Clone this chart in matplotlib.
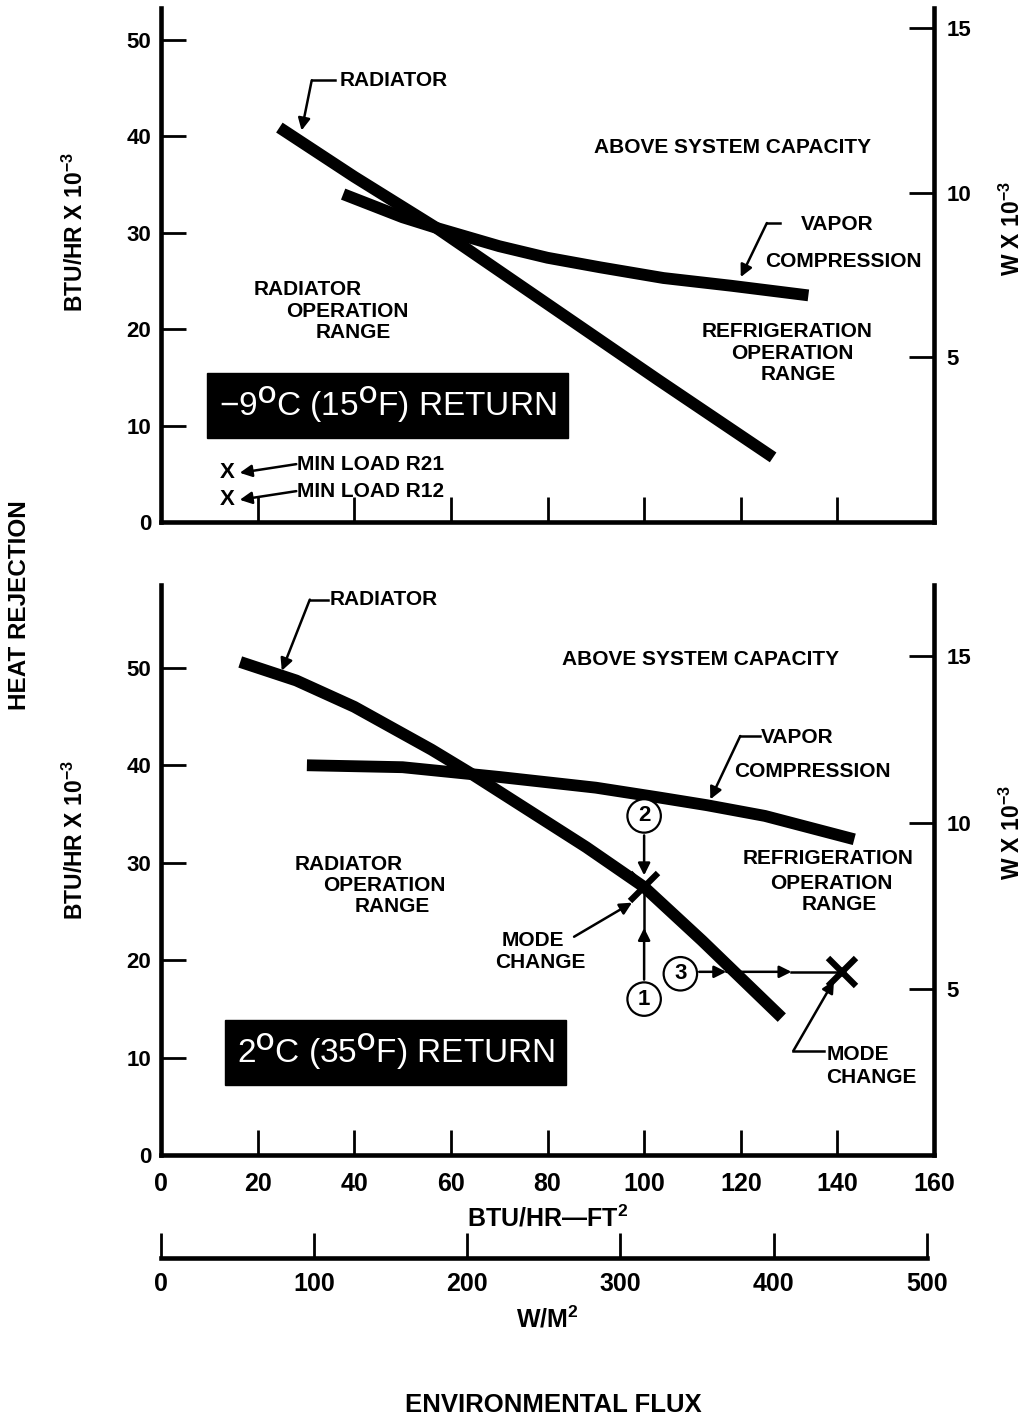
import numpy as np
import matplotlib.pyplot as plt

plt.rcParams['font.family'] = ['Liberation Sans', 'DejaVu Sans']
plt.rcParams['font.weight'] = 'bold'
plt.rcParams['axes.labelweight'] = 'bold'
plt.rcParams['mathtext.fontset'] = 'custom'
plt.rcParams['mathtext.rm'] = 'Liberation Sans'
plt.rcParams['mathtext.bf'] = 'Liberation Sans:bold'
plt.rcParams['mathtext.default'] = 'regular'

NARROW = ['Liberation Sans Narrow', 'Liberation Sans', 'DejaVu Sans']
FS = 15  # annotation text size

# ---- data ----
flux_ticks = [0, 20, 40, 60, 80, 100, 120, 140, 160]
wm2_ticks = [0, 100, 200, 300, 400, 500]
btu_ticks = [0, 10, 20, 30, 40, 50]
kw_ticks = [5, 10, 15]

BTU_PER_W = 3.41214        # BTU/hr per W
WM2_PER_FLUX = 3.15459     # W/m2 per BTU/hr-ft2

# -9C (15F) return
top_rad_x = [24.5, 40, 57, 80, 103, 126.7]
top_rad_y = [40.9, 35.8, 30.5, 22.6, 14.7, 6.7]
top_vap_x = [37.7, 50, 57, 70, 80, 91, 104, 118, 134]
top_vap_y = [34.0, 31.6, 30.5, 28.6, 27.4, 26.4, 25.3, 24.5, 23.5]
min_load_x = [13.7, 13.7]
min_load_y = [5.1, 2.3]
min_load_lbl = ['MIN LOAD R21', 'MIN LOAD R12']

# 2C (35F) return
bot_rad_x = [16.4, 28, 40, 56, 64, 76, 88, 100, 112, 128.5]
bot_rad_y = [50.6, 48.7, 46.0, 41.6, 39.2, 35.4, 31.6, 27.5, 22.0, 14.1]
bot_vap_x = [30.2, 50, 70, 90, 103, 113, 125, 143.5]
bot_vap_y = [40.0, 39.8, 38.8, 37.7, 36.7, 35.9, 34.8, 32.4]
mode_x = [100, 140.9]
mode_y = [27.5, 18.8]
step_lbl = ['1', '2', '3']
step_x = [100, 100, 107.5]
step_y = [16.0, 34.8, 18.6]


def arrow(ax, start, tip, lw=1.8):
    ax.annotate('', xy=tip, xytext=start,
                arrowprops=dict(arrowstyle='-|>', color='black', lw=lw,
                                mutation_scale=18, shrinkA=0, shrinkB=0))


def leader(ax, x0, x1, y, tip):
    ax.plot([x0, x1], [y, y], color='black', lw=1.8)
    arrow(ax, (x1, y), tip)


def setup(ax, ytop, xlabels):
    ax.set_xlim(0, 160)
    ax.set_ylim(0, ytop)
    ax.spines['top'].set_visible(False)
    ax.spines['right'].set_visible(False)
    for s in ['left', 'bottom']:
        ax.spines[s].set_linewidth(3.3)
    ax.set_xticks(flux_ticks)
    ax.set_yticks(btu_ticks)
    ax.tick_params(axis='both', direction='in', length=18, width=2)
    ax.tick_params(axis='y', labelsize=16, pad=7)
    ax.tick_params(axis='x', labelsize=18, pad=12, labelbottom=xlabels,
                   labelfontfamily=NARROW)
    sec = ax.secondary_yaxis('right', functions=(lambda y: y / BTU_PER_W,
                                                 lambda w: w * BTU_PER_W))
    sec.set_yticks(kw_ticks)
    sec.tick_params(direction='in', length=18, width=2, pad=9, labelsize=16)
    sec.spines['right'].set_linewidth(3.3)
    return sec


def thick(ax, x, y):
    ax.plot(x, y, color='black', lw=8.5, solid_capstyle='butt',
            solid_joinstyle='round')


def stacked(ax, lines):
    for txt, x, y in lines:
        ax.text(x, y, txt, fontsize=FS, ha='center', va='center')


def box(ax, x, y, txt):
    ax.text(x, y, txt, color='white', fontsize=24, fontweight='normal',
            ha='center', va='center',
            bbox=dict(boxstyle='square,pad=0.35', fc='black', ec='black'))


fig = plt.figure(figsize=(10.26, 14.2), dpi=100)
L, W = 161 / 1026, 773 / 1026
ax1 = fig.add_axes([L, 1 - 522 / 1420, W, 514 / 1420])
ax2 = fig.add_axes([L, 1 - 1155 / 1420, W, 570 / 1420])

# ---------- top panel ----------
s1 = setup(ax1, 53.3, False)
fig.text(75 / 1026, 1 - 232 / 1420, 'BTU/HR X 10$^{-3}$', rotation=90,
         fontsize=16.5, ha='center', va='center')
fig.text(1012 / 1026, 1 - 228 / 1420, 'W X 10$^{-3}$', rotation=90,
         fontsize=16.5, ha='center', va='center')
thick(ax1, top_rad_x, top_rad_y)
thick(ax1, top_vap_x, top_vap_y)

ax1.text(37.0, 45.8, 'RADIATOR', fontsize=FS, ha='left', va='center')
leader(ax1, 36.0, 31.2, 45.8, (29.1, 40.6))
ax1.text(118.4, 38.8, 'ABOVE SYSTEM CAPACITY', fontsize=FS, ha='center', va='center')
ax1.text(140.0, 30.9, 'VAPOR', fontsize=FS, ha='center', va='center')
ax1.text(141.2, 27.0, 'COMPRESSION', fontsize=FS, ha='center', va='center')
leader(ax1, 128.2, 125.4, 31.0, (120.0, 25.4))
stacked(ax1, [('RADIATOR', 30.3, 24.1), ('OPERATION', 38.6, 21.8), ('RANGE', 39.8, 19.6)])
stacked(ax1, [('REFRIGERATION', 129.6, 19.8), ('OPERATION', 130.6, 17.5), ('RANGE', 132.0, 15.3)])
box(ax1, 46.9, 12.1, '\u22129$^{\\rm O}$C (15$^{\\rm O}$F) RETURN')

for mx, my, lbl in zip(min_load_x, min_load_y, min_load_lbl):
    ax1.text(mx, my, 'X', fontsize=16, ha='center', va='center')
    ax1.text(mx + 14.5, my + 0.9, lbl, fontsize=FS, ha='left', va='center')
    arrow(ax1, (mx + 14.3, my + 0.9), (mx + 2.6, my))

# ---------- bottom panel ----------
s2 = setup(ax2, 58.5, True)
fig.text(75 / 1026, 1 - 840 / 1420, 'BTU/HR X 10$^{-3}$', rotation=90,
         fontsize=16.5, ha='center', va='center')
fig.text(1012 / 1026, 1 - 832 / 1420, 'W X 10$^{-3}$', rotation=90,
         fontsize=16.5, ha='center', va='center')
ax2.set_xlabel('BTU/HR\u2014FT$^2$', fontsize=18, labelpad=7, family=NARROW)
thick(ax2, bot_rad_x, bot_rad_y)
thick(ax2, bot_vap_x, bot_vap_y)

ax2.text(35.0, 57.0, 'RADIATOR', fontsize=FS, ha='left', va='center')
leader(ax2, 34.6, 30.8, 57.0, (25.0, 49.7))
ax2.text(111.6, 50.9, 'ABOVE SYSTEM CAPACITY', fontsize=FS, ha='center', va='center')
ax2.text(131.6, 42.8, 'VAPOR', fontsize=FS, ha='center', va='center')
ax2.text(134.9, 39.4, 'COMPRESSION', fontsize=FS, ha='center', va='center')
leader(ax2, 124.0, 119.9, 43.0, (113.7, 36.5))
stacked(ax2, [('RADIATOR', 38.8, 29.8), ('OPERATION', 46.2, 27.7), ('RANGE', 47.9, 25.5)])
stacked(ax2, [('REFRIGERATION', 138.0, 30.4), ('OPERATION', 138.7, 27.9), ('RANGE', 140.4, 25.7)])
box(ax2, 48.6, 10.5, '2$^{\\rm O}$C (35$^{\\rm O}$F) RETURN')

# mode change path
ax2.plot(mode_x, mode_y, linestyle='none', marker='x', ms=20, mew=4.5, color='black')
for lbl, sx, sy in zip(step_lbl, step_x, step_y):
    ax2.text(sx, sy, lbl, fontsize=16, ha='center', va='center', family=NARROW,
             bbox=dict(boxstyle='circle,pad=0.28', fc='white', ec='black', lw=1.6),
             zorder=5)
arrow(ax2, (step_x[1], step_y[1] - 2.0), (mode_x[0], mode_y[0] + 1.2))
arrow(ax2, (step_x[0], step_y[0] + 2.0), (mode_x[0], 23.3))
ax2.plot([mode_x[0], mode_x[0]], [23.0, mode_y[0]], color='black', lw=1.8)
arrow(ax2, (step_x[2] + 3.9, mode_y[1]), (117.0, mode_y[1]))
arrow(ax2, (117.0, mode_y[1]), (130.5, mode_y[1]))
ax2.plot([130.5, mode_x[1]], [mode_y[1], mode_y[1]], color='black', lw=1.8)

ax2.text(77.0, 22.0, 'MODE', fontsize=FS, ha='center', va='center')
ax2.text(78.6, 19.8, 'CHANGE', fontsize=FS, ha='center', va='center')
arrow(ax2, (85.5, 22.4), (97.5, 25.9))
ax2.text(144.3, 10.3, 'MODE', fontsize=FS, ha='center', va='center')
ax2.text(147.1, 8.0, 'CHANGE', fontsize=FS, ha='center', va='center')
leader(ax2, 137.2, 130.9, 10.7, (139.3, 17.9))

# W/M2 scale
wax = ax2.secondary_xaxis(-0.1807, functions=(lambda x: x * WM2_PER_FLUX,
                                              lambda w: w / WM2_PER_FLUX))
wax.set_xticks(wm2_ticks)
wax.spines['bottom'].set_linewidth(3.3)
wax.spines['bottom'].set_bounds(0, 500)
wax.tick_params(direction='in', length=18, width=2, pad=10, labelsize=18,
                labelfontfamily=NARROW)
wax.set_xlabel('W/M$^2$', fontsize=18, labelpad=7, family=NARROW)

fig.text(20 / 1026, 1 - 605 / 1420, 'HEAT REJECTION', rotation=90,
         fontsize=17.5, ha='center', va='center')
fig.text(553 / 1026, 1 - 1405 / 1420, 'ENVIRONMENTAL FLUX', fontsize=18.5,
         ha='center', va='center', family=NARROW)

fig.savefig('out.png', dpi=100)
